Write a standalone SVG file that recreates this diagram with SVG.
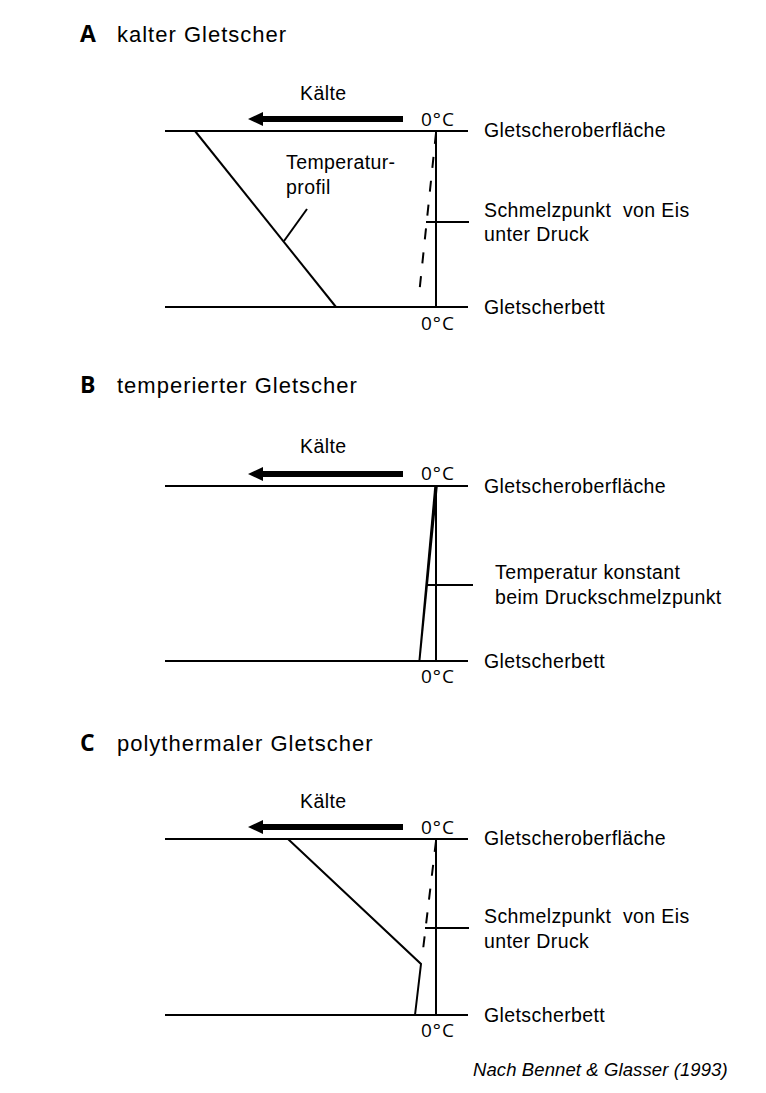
<svg xmlns="http://www.w3.org/2000/svg" xmlns:xlink="http://www.w3.org/1999/xlink" width="766" height="1093" viewBox="0 0 766 1093">
<style>
.ln{stroke:#000;stroke-width:2;fill:none}
.dash{stroke:#000;stroke-width:2;fill:none;stroke-dasharray:11 13}
.title{font-family:"Liberation Sans",Arial,sans-serif;font-size:22px;letter-spacing:1px;fill:#000}
.letter{font-family:"Open Sans","DejaVu Sans",sans-serif;font-size:23px;font-weight:bold;fill:#000}
.lbl{font-family:"Liberation Sans",Arial,sans-serif;font-size:19.5px;letter-spacing:0.4px;fill:#000}
.deg{font-family:"Open Sans","DejaVu Sans",sans-serif;font-size:19px;letter-spacing:1px;fill:#000}
.cite{font-family:"Liberation Sans",Arial,sans-serif;font-size:18.5px;font-style:italic;letter-spacing:0.1px;fill:#000}
</style>
<defs>
<path id="arr" d="M0,0 L15,-7 L15,-3 L155,-3 L155,3 L15,3 L15,7 Z" fill="#000"/>
</defs>
<rect width="766" height="1093" fill="#fff"/>

<g id="panelA">
<text class="letter" x="80" y="42">A</text>
<text class="title" x="117" y="42">kalter Gletscher</text>
<text class="lbl" x="300" y="100">Kälte</text>
<use xlink:href="#arr" x="248" y="119"/>
<text class="deg" x="421" y="126">0°C</text>
<line class="ln" x1="165" y1="131" x2="468" y2="131"/>
<line class="ln" x1="165" y1="307" x2="468" y2="307"/>
<line class="ln" x1="436" y1="131" x2="436" y2="307"/>
<line class="ln" x1="195" y1="131" x2="336" y2="307"/>
<line class="dash" x1="436" y1="133" x2="418.5" y2="300"/>
<line class="ln" x1="426" y1="222" x2="469" y2="222"/>
<line class="ln" x1="307" y1="209" x2="284" y2="241"/>
<text class="lbl" x="286" y="169">Temperatur-</text>
<text class="lbl" x="286" y="194">profil</text>
<text class="lbl" x="484" y="137">Gletscheroberfläche</text>
<text class="lbl" x="484" y="217" xml:space="preserve">Schmelzpunkt  von Eis</text>
<text class="lbl" x="484" y="241">unter Druck</text>
<text class="lbl" x="484" y="314">Gletscherbett</text>
<text class="deg" x="421" y="330">0°C</text>
</g>

<g id="panelB">
<text class="letter" x="80" y="393">B</text>
<text class="title" x="117" y="393">temperierter Gletscher</text>
<text class="lbl" x="300" y="453">Kälte</text>
<use xlink:href="#arr" x="248" y="474"/>
<text class="deg" x="421" y="480">0°C</text>
<line class="ln" x1="165" y1="486" x2="468" y2="486"/>
<line class="ln" x1="165" y1="661" x2="468" y2="661"/>
<line class="ln" x1="436" y1="486" x2="436" y2="661"/>
<polygon points="434.3,486 437.8,486 420.4,661 418.4,661" fill="#000"/>
<line class="ln" x1="427" y1="585" x2="473" y2="585"/>
<text class="lbl" x="484" y="493">Gletscheroberfläche</text>
<text class="lbl" x="495" y="579">Temperatur konstant</text>
<text class="lbl" x="495" y="604">beim Druckschmelzpunkt</text>
<text class="lbl" x="484" y="668">Gletscherbett</text>
<text class="deg" x="421" y="683">0°C</text>
</g>

<g id="panelC">
<text class="letter" x="80" y="751">C</text>
<text class="title" x="117" y="751">polythermaler Gletscher</text>
<text class="lbl" x="300" y="808">Kälte</text>
<use xlink:href="#arr" x="248" y="827"/>
<text class="deg" x="421" y="834">0°C</text>
<line class="ln" x1="165" y1="839" x2="468" y2="839"/>
<line class="ln" x1="165" y1="1015" x2="468" y2="1015"/>
<line class="ln" x1="436" y1="839" x2="436" y2="1015"/>
<polyline class="ln" points="288,839 421,964 415,1015"/>
<line class="dash" x1="436" y1="841" x2="422.5" y2="954"/>
<line class="ln" x1="425" y1="928" x2="469" y2="928"/>
<text class="lbl" x="484" y="845">Gletscheroberfläche</text>
<text class="lbl" x="484" y="923" xml:space="preserve">Schmelzpunkt  von Eis</text>
<text class="lbl" x="484" y="948">unter Druck</text>
<text class="lbl" x="484" y="1022">Gletscherbett</text>
<text class="deg" x="421" y="1037">0°C</text>
</g>

<g id="connectors"></g>

<text class="cite" x="473" y="1076">Nach Bennet &amp; Glasser (1993)</text>
</svg>
